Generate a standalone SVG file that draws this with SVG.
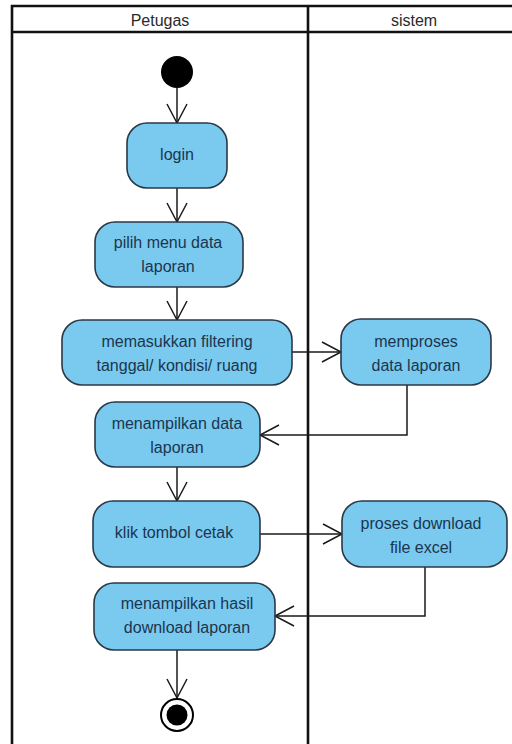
<svg xmlns="http://www.w3.org/2000/svg" width="512" height="744" viewBox="0 0 512 744">
  <style>
    .lane { fill: none; stroke: #111; stroke-width: 2.6; }
    .act { fill: #79caee; stroke: #2a3846; stroke-width: 1.6; }
    .lbl { font-family: "Liberation Sans", Arial, sans-serif; font-size: 16px; fill: #1c3550; text-anchor: middle; }
    .hdr { font-family: "Liberation Sans", Arial, sans-serif; font-size: 16px; fill: #2a2a2a; text-anchor: middle; }
    .flow { fill: none; stroke: #1a1a1a; stroke-width: 1.5; marker-end: url(#open); }
  </style>
  <defs>
    <marker id="open" markerUnits="userSpaceOnUse" viewBox="-21 -12 23 24" markerWidth="23" markerHeight="24" refX="0" refY="0" orient="auto">
      <path d="M-19,-10 L0,0 L-19,10" fill="none" stroke="#1a1a1a" stroke-width="1.5"/>
    </marker>
  </defs>
  <rect width="512" height="744" fill="#ffffff"/>

  <!-- swimlane frame -->
  <g id="swimlanes">
    <path class="lane" d="M12,750 L12,6 L520,6"/>
    <line class="lane" x1="12" y1="32" x2="520" y2="32"/>
    <line class="lane" x1="308" y1="6" x2="308" y2="750"/>
    <text class="hdr" x="160" y="26">Petugas</text>
    <text class="hdr" x="414" y="26">sistem</text>
  </g>

  <!-- control flows -->
  <g id="connectors">
    <path class="flow" d="M177,88 L177,123"/>
    <path class="flow" d="M177,188 L177,222"/>
    <path class="flow" d="M177,287 L177,320"/>
    <path class="flow" d="M292,352 L341,352"/>
    <path class="flow" d="M407,385 L407,435 L260,435"/>
    <path class="flow" d="M177,467 L177,501"/>
    <path class="flow" d="M260,534 L342,534"/>
    <path class="flow" d="M425,567 L425,616 L275,616"/>
    <path class="flow" d="M177,650 L177,698"/>
  </g>

  <g id="start">
    <circle cx="177" cy="72" r="16" fill="#000"/>
  </g>

  <g id="login">
    <rect class="act" x="127" y="123" width="100" height="65" rx="20"/>
    <text class="lbl" x="177" y="160">login</text>
  </g>

  <g id="pilih-menu">
    <rect class="act" x="95" y="222" width="148" height="65" rx="20"/>
    <text class="lbl" x="168" y="248">pilih menu data</text>
    <text class="lbl" x="168" y="272">laporan</text>
  </g>

  <g id="filtering">
    <rect class="act" x="62" y="320" width="230" height="65" rx="20"/>
    <text class="lbl" x="177" y="347">memasukkan filtering</text>
    <text class="lbl" x="177" y="371">tanggal/ kondisi/ ruang</text>
  </g>

  <g id="memproses">
    <rect class="act" x="341" y="319" width="150" height="66" rx="20"/>
    <text class="lbl" x="416" y="347">memproses</text>
    <text class="lbl" x="416" y="371">data laporan</text>
  </g>

  <g id="tampil-data">
    <rect class="act" x="95" y="402" width="165" height="65" rx="20"/>
    <text class="lbl" x="177" y="429">menampilkan data</text>
    <text class="lbl" x="177" y="453">laporan</text>
  </g>

  <g id="klik-cetak">
    <rect class="act" x="93" y="501" width="167" height="66" rx="20"/>
    <text class="lbl" x="174" y="538">klik tombol cetak</text>
  </g>

  <g id="proses-download">
    <rect class="act" x="342" y="501" width="165" height="66" rx="20"/>
    <text class="lbl" x="421" y="529">proses download</text>
    <text class="lbl" x="421" y="553">file excel</text>
  </g>

  <g id="tampil-hasil">
    <rect class="act" x="94" y="583" width="181" height="67" rx="20"/>
    <text class="lbl" x="187" y="609">menampilkan hasil</text>
    <text class="lbl" x="187" y="633">download laporan</text>
  </g>

  <g id="end">
    <circle cx="177" cy="715" r="16" fill="#fff" stroke="#000" stroke-width="2"/>
    <circle cx="177" cy="715" r="10.5" fill="#000"/>
  </g>
</svg>
